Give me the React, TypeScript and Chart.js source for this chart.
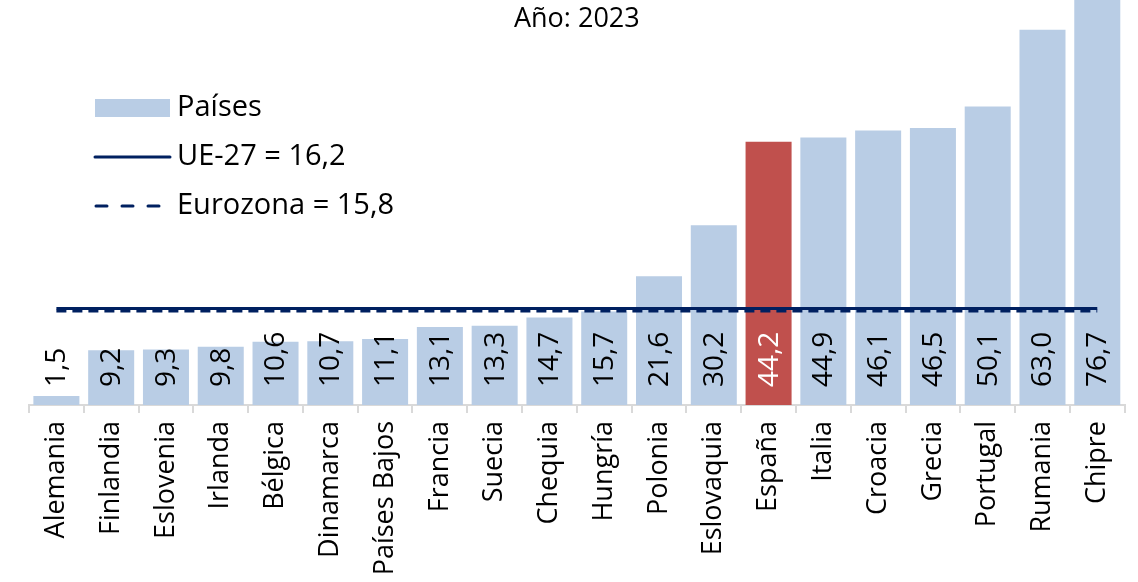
import React, { useEffect, useRef } from "react";
import { Chart, registerables } from "chart.js";

Chart.register(...registerables);

const categories = [
  "Alemania", "Finlandia", "Eslovenia", "Irlanda", "Bélgica", "Dinamarca", "Países Bajos",
  "Francia", "Suecia", "Chequia", "Hungría", "Polonia", "Eslovaquia", "España", "Italia",
  "Croacia", "Grecia", "Portugal", "Rumania", "Chipre",
];
const values = [1.5, 9.2, 9.3, 9.8, 10.6, 10.7, 11.1, 13.1, 13.3, 14.7, 15.7, 21.6, 30.2, 44.2, 44.9, 46.1, 46.5, 50.1, 63.0, 76.7];
const ue27Value = 16.2;
const eurozonaValue = 15.8;
const titleText = "Año: 2023";
const legendLabels = ["Países", "UE-27 = 16,2", "Eurozona = 15,8"];
const highlight = "España";

const FONT = "'Open Sans', sans-serif";
const BAR = "#B9CDE5";
const RED = "#C0504D";
const NAVY = "#002060";

const fmt = (v: number) => v.toFixed(1).replace(".", ",");

const overlayPlugin = {
  id: "overlay",
  afterDatasetsDraw(chart: any) {
    const ctx = chart.ctx;
    const meta = chart.getDatasetMeta(0);
    const yBase = chart.scales.y.getPixelForValue(0);
    ctx.save();
    ctx.font = `28px ${FONT}`;
    ctx.textAlign = "left";
    ctx.textBaseline = "middle";
    meta.data.forEach((bar: any, i: number) => {
      ctx.save();
      ctx.translate(bar.x, yBase - 18);
      ctx.rotate(-Math.PI / 2);
      ctx.fillStyle = categories[i] === highlight ? "#ffffff" : "#000000";
      ctx.fillText(fmt(values[i]), 0, 1);
      ctx.restore();
    });
    ctx.restore();
  },
  afterDraw(chart: any) {
    const ctx = chart.ctx;
    ctx.save();
    // title
    ctx.fillStyle = "#000";
    ctx.font = `27px ${FONT}`;
    ctx.textAlign = "center";
    ctx.textBaseline = "middle";
    const cx = (chart.chartArea.left + chart.chartArea.right) / 2;
    ctx.fillText(titleText, cx, 19);
    // legend
    ctx.textAlign = "left";
    ctx.font = `29px ${FONT}`;
    const x0 = 95, x1 = 170, tx = 177;
    const rows = [108, 157, 206];
    ctx.fillStyle = BAR;
    ctx.fillRect(x0, rows[0] - 9, x1 - x0, 18);
    ctx.strokeStyle = NAVY;
    ctx.lineWidth = 3;
    ctx.lineCap = "round";
    ctx.beginPath();
    ctx.moveTo(x0, rows[1]);
    ctx.lineTo(x1, rows[1]);
    ctx.stroke();
    ctx.setLineDash([11, 15]);
    ctx.beginPath();
    ctx.moveTo(x0 + 1, rows[2]);
    ctx.lineTo(x1, rows[2]);
    ctx.stroke();
    ctx.setLineDash([]);
    ctx.fillStyle = "#000";
    legendLabels.forEach((t, i) => ctx.fillText(t, tx, rows[i]));
    ctx.restore();
  },
};

export default function App() {
  const ref = useRef<HTMLCanvasElement>(null);
  useEffect(() => {
    document.body.style.margin = "0";
    const chart = new Chart(ref.current!, {
      type: "bar",
      data: {
        labels: categories,
        datasets: [
          {
            type: "bar",
            label: legendLabels[0],
            data: values,
            backgroundColor: categories.map((c) => (c === highlight ? RED : BAR)),
            barPercentage: 0.84,
            categoryPercentage: 1,
            order: 2,
          } as any,
          {
            type: "line",
            label: legendLabels[2],
            data: categories.map(() => eurozonaValue),
            borderColor: NAVY,
            borderWidth: 3,
            borderDash: [10, 6],
            pointRadius: 0,
            order: 1,
          },
          {
            type: "line",
            label: legendLabels[1],
            data: categories.map(() => ue27Value),
            borderColor: NAVY,
            borderWidth: 3,
            pointRadius: 0,
            order: 0,
          },
        ],
      },
      options: {
        animation: false,
        responsive: false,
        layout: { padding: { left: 29, right: 13, top: 0, bottom: 0 } },
        plugins: { legend: { display: false }, title: { display: false }, tooltip: { enabled: false } },
        scales: {
          y: { display: false, min: 0, max: 68 },
          x: {
            offset: true,
            grid: { display: true, offset: true, drawOnChartArea: false, tickLength: 8, color: "#d9d9d9", lineWidth: 2 },
            border: { display: true, color: "#d9d9d9", width: 2 },
            ticks: {
              minRotation: 90,
              maxRotation: 90,
              autoSkip: false,
              color: "#000",
              padding: 8,
              font: { family: FONT, size: 27 },
            },
            afterFit: (s: any) => { s.height = 177; },
          } as any,
        },
      },
      plugins: [overlayPlugin],
    });
    return () => chart.destroy();
  }, []);
  return <canvas ref={ref} width={1138} height={582} style={{ display: "block" }} />;
}
